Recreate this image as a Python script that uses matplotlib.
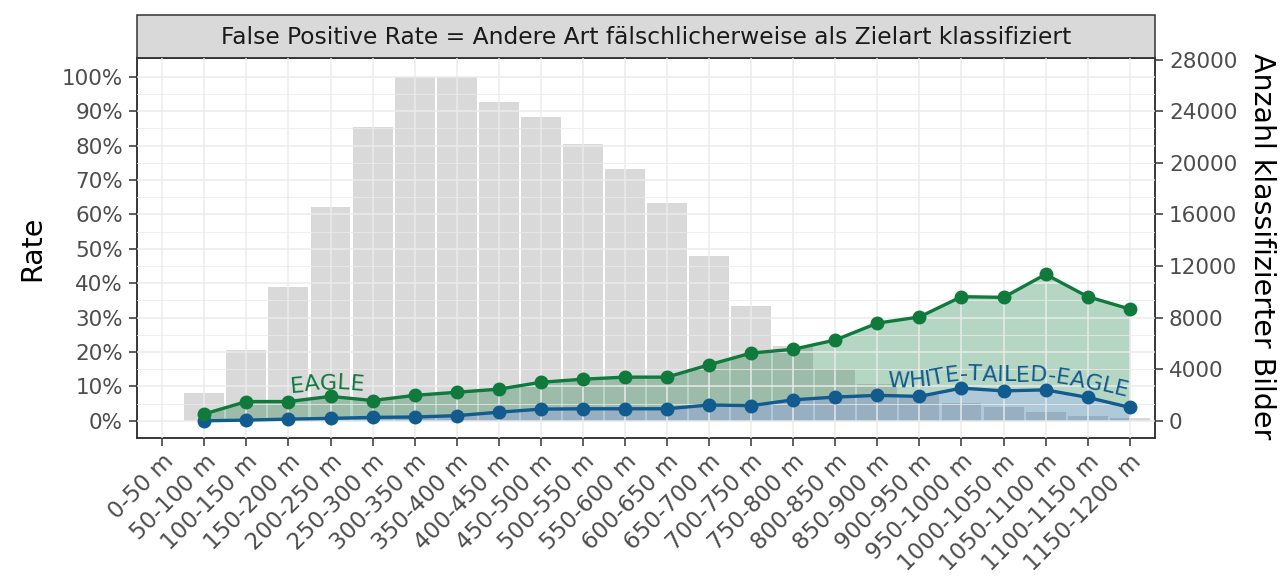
import numpy as np
import matplotlib
matplotlib.use("Agg")
import matplotlib.pyplot as plt
from matplotlib.patches import Rectangle
from matplotlib.font_manager import FontProperties

# Entfernungsklassen
categories = [
    "0-50 m", "50-100 m", "100-150 m", "150-200 m", "200-250 m", "250-300 m",
    "300-350 m", "350-400 m", "400-450 m", "450-500 m", "500-550 m", "550-600 m",
    "600-650 m", "650-700 m", "700-750 m", "750-800 m", "800-850 m", "850-900 m",
    "900-950 m", "950-1000 m", "1000-1050 m", "1050-1100 m", "1100-1150 m",
    "1150-1200 m",
]

# Anzahl klassifizierter Bilder je Klasse
image_counts = [
    0, 2160, 5490, 10400, 16560, 22800, 26670, 26670, 24750, 23520, 21470, 19520,
    16880, 12800, 8910, 5810, 4050, 2850, 2020, 1410, 1070, 720, 400, 210,
]

# False Positive Rate je Zielart
fpr_eagle = [
    np.nan, 0.020, 0.056, 0.056, 0.071, 0.059, 0.074, 0.083, 0.092, 0.112, 0.121,
    0.127, 0.127, 0.163, 0.197, 0.208, 0.235, 0.284, 0.302, 0.361, 0.359, 0.426,
    0.361, 0.325,
]
fpr_wte = [
    np.nan, 0.000, 0.002, 0.005, 0.007, 0.010, 0.011, 0.015, 0.025, 0.034, 0.035,
    0.035, 0.035, 0.046, 0.044, 0.061, 0.069, 0.074, 0.071, 0.095, 0.087, 0.090,
    0.068, 0.039,
]

species_labels = ["EAGLE", "WHITE-TAILED-EAGLE"]

COUNT_SCALE = 26667  # Bilder, die 100 % auf der Rate-Achse entsprechen
GREEN = "#0f7a3c"
BLUE = "#115b8e"
TICK_COL = "#4d4d4d"
FRAME_COL = "#333333"

W, H = 1288, 577
fig = plt.figure(figsize=(W / 100, H / 100), dpi=100)
fig.patch.set_facecolor("white")

ax2 = fig.add_axes([137 / W, 1 - 438 / H, (1155 - 137) / W, (438 - 58) / H])
ax = ax2.twinx()
ax.xaxis.set_visible(True)
ax.yaxis.tick_left()
ax2.yaxis.tick_right()
ax.set_zorder(ax2.get_zorder() + 1)
ax.patch.set_visible(False)

x = np.arange(len(categories))
ylim = (-0.05, 1.055)
ax.set_xlim(-0.6, len(categories) - 0.4)
ax.set_ylim(*ylim)
ax2.set_ylim(ylim[0] * COUNT_SCALE, ylim[1] * COUNT_SCALE)

# Balken: Anzahl Bilder (rechte Achse)
ax2.bar(x, image_counts, width=0.95, color="#d9d9d9", linewidth=0)

# Flächen und Linien der Raten
eagle = np.array(fpr_eagle)
wte = np.array(fpr_wte)
ax.fill_between(x, wte, eagle, color=GREEN, alpha=0.3, linewidth=0, zorder=1)
ax.fill_between(x, 0, wte, color=BLUE, alpha=0.33, linewidth=0, zorder=1)
ax.plot(x, wte, color=BLUE, lw=2.4, marker="o", ms=9, zorder=3)
ax.plot(x, eagle, color=GREEN, lw=2.4, marker="o", ms=9, zorder=4)

# Gitter liegt über den Balken
ax.set_axisbelow(False)
ax.set_yticks(np.arange(0, 1.01, 0.1))
ax.set_yticks(np.arange(0.05, 1.0, 0.1), minor=True)
ax.set_yticklabels([f"{int(round(v * 100))}%" for v in np.arange(0, 1.01, 0.1)])
ax.set_xticks(x)
ax.set_xticklabels(categories, rotation=45, ha="right", va="top",
                   rotation_mode="anchor")
ax.grid(which="major", color="#ebebeb", lw=1.3, alpha=0.8)
ax.grid(which="minor", axis="y", color="#ebebeb", lw=0.7, alpha=0.8)

ax2.set_yticks(np.arange(0, 28001, 4000))
ax2.set_yticklabels([str(v) for v in range(0, 28001, 4000)])
ax2.tick_params(axis="x", bottom=False, labelbottom=False)

for a in (ax, ax2):
    a.tick_params(which="major", length=5.5, width=1.1, color=FRAME_COL,
                  labelsize=15.5, labelcolor=TICK_COL, pad=4.5)
    a.tick_params(which="minor", length=0)
    for sp in a.spines.values():
        sp.set_color(FRAME_COL)
        sp.set_linewidth(1.1)
ax.tick_params(axis="x", pad=3, labelsize=16.5)

fig.text(32 / W, 1 - 248 / H, "Rate", rotation=90, ha="center", va="center",
         fontsize=20.5, color="black")
fig.text(1262 / W, 1 - 246 / H, "Anzahl klassifizierter Bilder", rotation=-90,
         ha="center", va="center", fontsize=20.5, color="black")

# Facetten-Streifen
fig.add_artist(Rectangle((137 / W, 1 - 58 / H), (1155 - 137) / W, 43 / H,
                         transform=fig.transFigure, facecolor="#d9d9d9",
                         edgecolor=FRAME_COL, linewidth=1.1))
fig.text(646 / W, 1 - 37 / H,
         "False Positive Rate = Andere Art fälschlicherweise als Zielart klassifiziert",
         ha="center", va="center", fontsize=16.8, color="#1a1a1a")


def curved_label(ax, xs, ys, label, x_mid, lift, color, size):
    """Beschriftung Buchstabe für Buchstabe entlang der Linie setzen."""
    renderer = ax.figure.canvas.get_renderer()
    prop = FontProperties(family="DejaVu Sans", size=size)
    ys = np.asarray(ys, dtype=float)
    ok = ~np.isnan(ys)
    pts = ax.transData.transform(np.column_stack([np.asarray(xs)[ok], ys[ok]]))
    seg = np.hypot(*np.diff(pts, axis=0).T)
    s = np.concatenate([[0], np.cumsum(seg)])
    t = np.arange(0, s[-1], 1.0)
    px = np.interp(t, s, pts[:, 0])
    py = np.interp(t, s, pts[:, 1])
    k = 41
    kern = np.ones(k) / k
    px = np.convolve(np.pad(px, k // 2, mode="edge"), kern, mode="valid")
    py = np.convolve(np.pad(py, k // 2, mode="edge"), kern, mode="valid")
    dx, dy = np.gradient(px), np.gradient(py)
    nrm = np.hypot(dx, dy)
    ox = px - lift * dy / nrm
    oy = py + lift * dx / nrm
    so = np.concatenate([[0], np.cumsum(np.hypot(np.diff(ox), np.diff(oy)))])
    widths = [renderer.get_text_width_height_descent(c, prop, ismath=False)[0]
              for c in label]
    x_pix = ax.transData.transform((x_mid, 0))[0]
    pos = so[np.argmin(np.abs(ox - x_pix))] - sum(widths) / 2
    inv = ax.transData.inverted()
    for c, w in zip(label, widths):
        sc = pos + w / 2
        cx, cy = np.interp(sc, so, ox), np.interp(sc, so, oy)
        j = int(np.clip(np.searchsorted(so, sc), 0, len(so) - 1))
        ang = np.degrees(np.arctan2(dy[j], dx[j]))
        xd, yd = inv.transform((cx, cy))
        ax.text(xd, yd, c, rotation=ang, rotation_mode="anchor", ha="center",
                va="baseline", fontproperties=prop, color=color, zorder=6)
        pos += w


curved_label(ax, x, fpr_eagle, species_labels[0], 3.92, 8, GREEN, 16)
curved_label(ax, x, fpr_wte, species_labels[1], 20.1, 9, BLUE, 16)

fig.savefig("out.png", dpi=100, facecolor="white")
